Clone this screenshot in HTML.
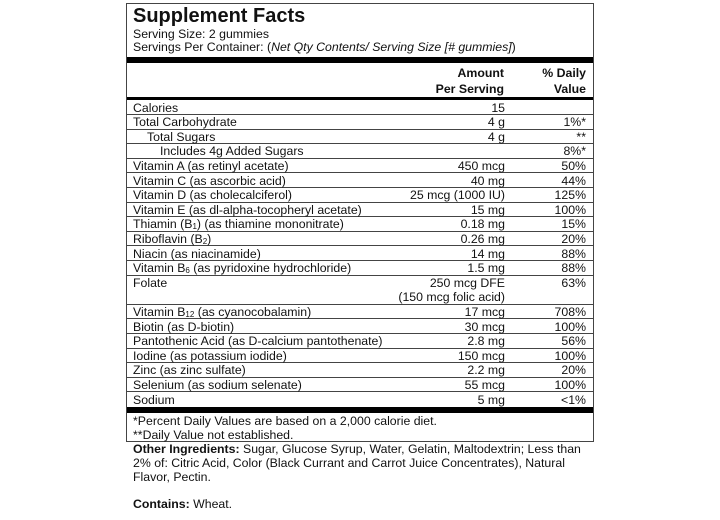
<!DOCTYPE html>
<html><head><style>
body{margin:0;width:720px;height:520px;background:#fff;font-family:"Liberation Sans",Arial,sans-serif;color:#111;position:relative;overflow:hidden}
.box{position:absolute;left:126px;top:3px;width:466px;height:437px;border:1px solid #444}
.t{position:absolute;font-size:12.3px;line-height:14px;white-space:nowrap}
.r{position:absolute;left:127px;width:466px;height:14.6px;border-bottom:1px solid #444;box-sizing:border-box;font-size:12.3px;line-height:14px}
.r span{position:absolute;top:0;white-space:nowrap}
.a{right:88px}.p{right:7px}.n{left:6px}
.bar{position:absolute;left:127px;width:466px;background:#000}
sub{font-size:8px;vertical-align:-1px;line-height:0}
</style></head><body>
<div class="box"></div>
<div class="t" style="left:133px;top:4px;font-size:20px;line-height:24px;font-weight:bold">Supplement Facts</div>
<div class="t" style="left:133px;top:27px">Serving Size: 2 gummies</div>
<div class="t" style="left:133px;top:40px">Servings Per Container: (<i>Net Qty Contents/ Serving Size [# gummies]</i>)</div>
<div class="bar" style="top:57px;height:6px"></div>
<div class="t" style="right:216px;top:65px;font-weight:bold;text-align:right;line-height:16px">Amount<br>Per Serving</div>
<div class="t" style="right:134px;top:65px;font-weight:bold;text-align:right;line-height:16px">% Daily<br>Value</div>
<div class="bar" style="top:97px;height:3px"></div>

<div class="r" style="top:100.5px"><span class="n">Calories</span><span class="a">15</span></div>
<div class="r" style="top:115.1px"><span class="n">Total Carbohydrate</span><span class="a">4 g</span><span class="p">1%*</span></div>
<div class="r" style="top:129.7px"><span class="n" style="left:20px">Total Sugars</span><span class="a">4 g</span><span class="p">**</span></div>
<div class="r" style="top:144.3px"><span class="n" style="left:33px">Includes 4g Added Sugars</span><span class="p">8%*</span></div>
<div class="r" style="top:158.9px"><span class="n">Vitamin A (as retinyl acetate)</span><span class="a">450 mcg</span><span class="p">50%</span></div>
<div class="r" style="top:173.5px"><span class="n">Vitamin C (as ascorbic acid)</span><span class="a">40 mg</span><span class="p">44%</span></div>
<div class="r" style="top:188.1px"><span class="n">Vitamin D (as cholecalciferol)</span><span class="a">25 mcg (1000 IU)</span><span class="p">125%</span></div>
<div class="r" style="top:202.7px"><span class="n">Vitamin E (as dl-alpha-tocopheryl acetate)</span><span class="a">15 mg</span><span class="p">100%</span></div>
<div class="r" style="top:217.3px"><span class="n">Thiamin (B<sub>1</sub>) (as thiamine mononitrate)</span><span class="a">0.18 mg</span><span class="p">15%</span></div>
<div class="r" style="top:231.9px"><span class="n">Riboflavin (B<sub>2</sub>)</span><span class="a">0.26 mg</span><span class="p">20%</span></div>
<div class="r" style="top:246.5px"><span class="n">Niacin (as niacinamide)</span><span class="a">14 mg</span><span class="p">88%</span></div>
<div class="r" style="top:261.1px"><span class="n">Vitamin B<sub>6</sub> (as pyridoxine hydrochloride)</span><span class="a">1.5 mg</span><span class="p">88%</span></div>
<div class="r" style="top:275.7px;height:29.2px"><span class="n">Folate</span><span class="a" style="text-align:right">250 mcg DFE<br>(150 mcg folic acid)</span><span class="p">63%</span></div>
<div class="r" style="top:304.9px"><span class="n">Vitamin B<sub>12</sub> (as cyanocobalamin)</span><span class="a">17 mcg</span><span class="p">708%</span></div>
<div class="r" style="top:319.5px"><span class="n">Biotin (as D-biotin)</span><span class="a">30 mcg</span><span class="p">100%</span></div>
<div class="r" style="top:334.1px"><span class="n">Pantothenic Acid (as D-calcium pantothenate)</span><span class="a">2.8 mg</span><span class="p">56%</span></div>
<div class="r" style="top:348.7px"><span class="n">Iodine (as potassium iodide)</span><span class="a">150 mcg</span><span class="p">100%</span></div>
<div class="r" style="top:363.3px"><span class="n">Zinc (as zinc sulfate)</span><span class="a">2.2 mg</span><span class="p">20%</span></div>
<div class="r" style="top:377.9px"><span class="n">Selenium (as sodium selenate)</span><span class="a">55 mcg</span><span class="p">100%</span></div>
<div class="r" style="top:392.5px;border:none"><span class="n">Sodium</span><span class="a">5 mg</span><span class="p">&lt;1%</span></div>
<div class="bar" style="top:407px;height:6px"></div>
<div class="t" style="left:133px;top:414px">*Percent Daily Values are based on a 2,000 calorie diet.</div>
<div class="t" style="left:133px;top:428px">**Daily Value not established.</div>
<div class="t" style="left:133px;top:442px;white-space:normal;width:452px"><b>Other Ingredients:</b> Sugar, Glucose Syrup, Water, Gelatin, Maltodextrin; Less than<br>2% of: Citric Acid, Color (Black Currant and Carrot Juice Concentrates), Natural<br>Flavor, Pectin.</div>
<div class="t" style="left:133px;top:497px"><b>Contains:</b> Wheat.</div>
</body></html>
